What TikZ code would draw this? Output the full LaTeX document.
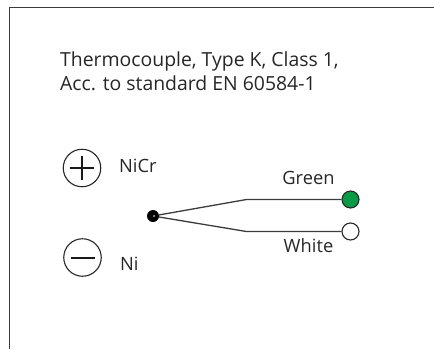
\documentclass[tikz,border=0pt]{standalone}
\usepackage{fontspec}
\setmainfont{Open Sans}
\definecolor{wiregray}{HTML}{3C3C3C}
\definecolor{termgreen}{HTML}{0A9A46}
\tikzset{
	label text/.style={inner sep=0pt, font=\fontsize{18.3}{24}\selectfont, text=black!85},
	title text/.style={inner sep=0pt, font=\fontsize{19.4}{24}\selectfont, text=black!85},
	sign ring/.style={shape=circle, draw=black!85, line width=1.1pt, minimum size=37.5pt, inner sep=0pt},
	sign bar/.style={draw=black!90, line width=2pt},
	wire/.style={draw=wiregray, line width=1.3pt},
	terminal/.style={shape=circle, draw=black!85, line width=1.1pt, minimum size=17pt, inner sep=0pt},
}
\begin{document}
\begin{tikzpicture}[x=1pt, y=-1pt]
	\useasboundingbox (0,0) rectangle (434,349);
	\coordinate (frametop) at (434,7.5);
	\coordinate (framecorner) at (9.5,7.5);
	\coordinate (framebottom) at (9.5,349);
	\path [wire] (frametop) -- (framecorner) -- (framebottom);
	
	\node[title text, anchor=base west, align=left] (title) at (60,90) {Thermocouple, Type K, Class 1,\\Acc. to standard EN 60584-1};
	
	\node[sign ring] (plus) at (82,168) {};
	\node[sign ring] (minus) at (82.5,257.5) {};
	\path [sign bar] ([xshift=-12pt]plus.center) edge ([xshift=12pt]plus.center);
	\path [sign bar] ([yshift=-12pt]plus.center) edge ([yshift=12pt]plus.center);
	\path [sign bar] ([xshift=-12pt]minus.center) edge ([xshift=12pt]minus.center);
	
	\node[label text, anchor=base west] (nicr) at (119,172) {NiCr};
	\node[label text, anchor=base west] (ni) at (120,270) {Ni};
	
	\node[shape=circle, fill=black, minimum size=12pt, inner sep=0pt] (junction) at (153,216) {};
	\node[shape=circle, fill=white, minimum size=1.8pt, inner sep=0pt] (spot) at (154,216) {};
	\coordinate (bendgreen) at (246.5,199.5);
	\coordinate (bendwhite) at (246.5,231.5);
	\node[terminal, fill=termgreen] (green) at (350.5,199.5) {};
	\node[terminal, fill=white] (white) at (350.5,231.5) {};
	
	\path [wire] (junction) -- (bendgreen) -- (green);
	\path [wire] (junction) -- (bendwhite) -- (white);
	
	\node[label text, anchor=base] (greenlabel) at (308.5,184) {Green};
	\node[label text, anchor=base] (whitelabel) at (308.5,252) {White};
\end{tikzpicture}
\end{document}
